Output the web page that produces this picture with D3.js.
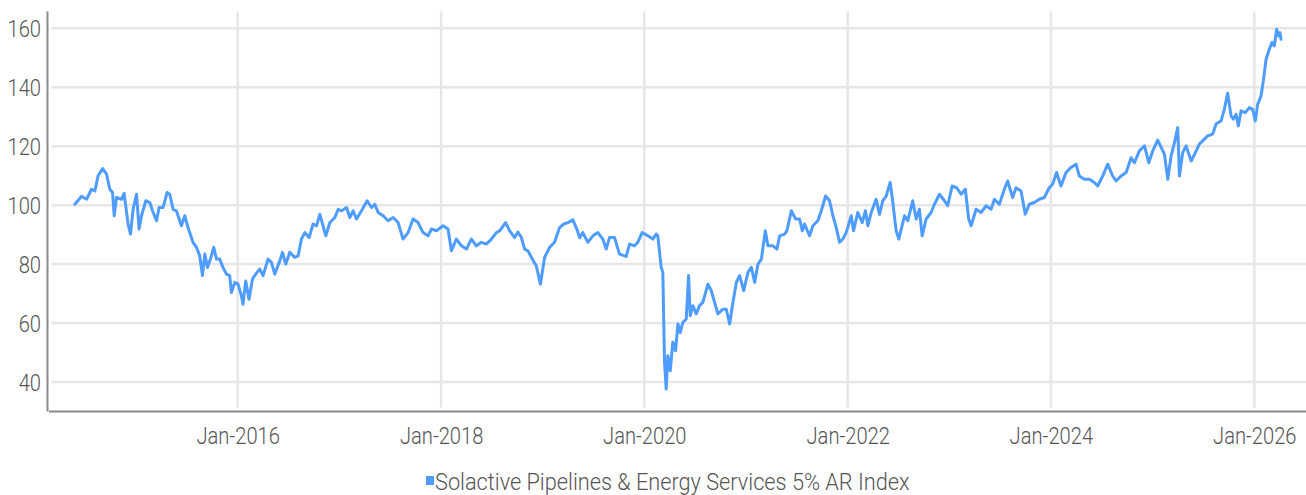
<!DOCTYPE html>
<html>
<head>
<meta charset="utf-8">
<script src="https://cdn.jsdelivr.net/npm/d3@7"></script>
<style>
  html, body { margin: 0; padding: 0; background: #fff; }
  svg { display: block; }
  text { font-family: "Roboto", "DejaVu Sans Condensed", sans-serif; font-weight: 300; fill: #555; }
</style>
</head>
<body>
<svg id="chart" width="1306" height="495"></svg>
<script>
// ---- data (decimal years, index level) ----
const seriesName = "Solactive Pipelines & Energy Services 5% AR Index";
const times = [
2014.397,2014.463,2014.512,2014.561,2014.594,2014.626,2014.670,2014.709,2014.741,2014.768,
2014.784,2014.807,2014.856,2014.882,2014.921,2014.945,2014.970,2015.004,2015.029,2015.053,
2015.095,2015.135,2015.161,2015.201,2015.226,2015.265,2015.305,2015.331,2015.364,2015.397,
2015.446,2015.479,2015.511,2015.560,2015.594,2015.626,2015.653,2015.676,2015.702,2015.732,
2015.764,2015.791,2015.823,2015.855,2015.889,2015.921,2015.938,2015.971,2016.003,2016.036,
2016.052,2016.079,2016.111,2016.145,2016.177,2016.216,2016.249,2016.298,2016.331,2016.364,
2016.413,2016.440,2016.472,2016.511,2016.560,2016.593,2016.626,2016.659,2016.701,2016.740,
2016.774,2016.806,2016.833,2016.865,2016.905,2016.954,2016.986,2017.020,2017.069,2017.101,
2017.134,2017.167,2017.216,2017.271,2017.315,2017.347,2017.380,2017.429,2017.478,2017.527,
2017.576,2017.625,2017.675,2017.724,2017.773,2017.822,2017.871,2017.905,2017.954,2018.019,
2018.068,2018.101,2018.150,2018.200,2018.249,2018.298,2018.347,2018.396,2018.445,2018.495,
2018.544,2018.576,2018.635,2018.675,2018.724,2018.756,2018.790,2018.822,2018.855,2018.888,
2018.937,2018.977,2019.019,2019.068,2019.117,2019.166,2019.206,2019.248,2019.297,2019.336,
2019.363,2019.395,2019.444,2019.494,2019.543,2019.592,2019.625,2019.658,2019.707,2019.756,
2019.822,2019.855,2019.904,2019.936,2019.979,2020.035,2020.084,2020.117,2020.133,2020.166,
2020.182,2020.199,2020.215,2020.231,2020.255,2020.280,2020.307,2020.330,2020.353,2020.379,
2020.412,2020.435,2020.451,2020.477,2020.510,2020.543,2020.575,2020.625,2020.658,2020.690,
2020.723,2020.772,2020.805,2020.838,2020.870,2020.904,2020.936,2020.976,2021.018,2021.051,
2021.084,2021.116,2021.150,2021.189,2021.214,2021.264,2021.303,2021.330,2021.379,2021.401,
2021.445,2021.487,2021.526,2021.553,2021.575,2021.625,2021.657,2021.706,2021.740,2021.782,
2021.821,2021.854,2021.887,2021.920,2021.952,2021.985,2022.035,2022.057,2022.099,2022.143,
2022.175,2022.198,2022.231,2022.280,2022.313,2022.345,2022.379,2022.418,2022.444,2022.477,
2022.503,2022.559,2022.591,2022.640,2022.674,2022.706,2022.733,2022.772,2022.821,2022.854,
2022.903,2022.952,2022.984,2023.028,2023.073,2023.116,2023.158,2023.191,2023.215,2023.264,
2023.313,2023.362,2023.411,2023.444,2023.493,2023.542,2023.574,2023.624,2023.657,2023.706,
2023.748,2023.788,2023.837,2023.886,2023.935,2023.984,2024.017,2024.056,2024.099,2024.149,
2024.198,2024.247,2024.279,2024.329,2024.378,2024.427,2024.460,2024.509,2024.558,2024.607,
2024.640,2024.689,2024.739,2024.788,2024.820,2024.869,2024.919,2024.961,2025.000,2025.049,
2025.083,2025.115,2025.148,2025.181,2025.214,2025.246,2025.263,2025.295,2025.329,2025.378,
2025.420,2025.459,2025.509,2025.541,2025.590,2025.624,2025.673,2025.705,2025.738,2025.771,
2025.794,2025.820,2025.843,2025.870,2025.912,2025.951,2025.984,2026.010,2026.033,2026.066,
2026.089,2026.116,2026.148,2026.174,2026.197,2026.220,2026.240,2026.253,2026.263
];
const values = [
100.3,103.0,102.0,105.4,104.8,110.0,112.4,110.5,105.4,104.3,
96.4,102.6,102.0,104.0,93.6,90.2,98.6,103.7,91.9,96.4,
101.5,100.9,98.1,94.7,99.2,99.2,104.3,103.7,98.6,98.1,
93.0,96.4,92.4,87.4,85.7,82.8,76.1,83.4,78.9,81.7,
85.7,81.7,81.7,78.9,76.6,76.1,70.4,73.8,73.2,69.3,
66.4,74.3,68.1,74.9,76.6,78.3,76.1,81.7,80.6,76.6,
81.1,84.0,80.0,84.0,82.3,82.8,88.5,90.7,89.0,93.6,
93.0,96.9,93.6,89.6,94.1,95.8,98.6,98.1,99.2,95.8,
98.1,95.3,98.1,101.5,99.2,100.3,97.5,96.4,94.7,95.8,
94.1,88.5,90.7,95.3,94.1,90.7,89.6,91.9,91.3,93.0,
91.9,84.5,88.5,86.2,85.1,88.5,86.2,87.4,86.8,88.5,
90.7,91.3,94.1,91.3,89.0,90.9,89.0,85.1,84.5,82.3,
79.4,73.2,82.3,85.7,87.4,92.4,93.6,94.1,95.0,91.9,
89.0,90.7,87.4,89.6,90.7,88.5,85.1,89.0,89.0,83.4,
82.6,86.8,86.2,87.4,90.7,89.6,88.5,90.2,89.6,78.9,
77.2,46.7,37.6,48.9,43.8,53.5,50.6,59.7,56.8,60.2,
61.4,76.1,62.5,65.9,63.1,65.9,67.0,73.2,71.0,67.0,
63.1,64.7,64.7,59.7,67.0,73.8,76.1,71.0,77.2,78.9,
73.8,80.0,81.7,91.3,86.2,86.2,85.1,89.6,90.2,91.3,
98.1,95.3,95.3,91.3,93.6,89.6,93.0,94.7,98.1,103.1,
101.5,96.4,92.4,87.4,88.5,90.7,96.4,91.3,97.5,94.1,
98.1,93.0,97.5,102.0,96.9,101.5,103.1,107.7,100.9,91.3,
88.5,96.4,94.7,101.5,95.3,98.6,89.6,95.3,97.5,100.3,
103.7,101.5,99.8,106.5,105.9,103.7,105.4,95.3,93.0,98.6,
97.5,99.8,98.6,102.0,100.3,105.4,108.2,102.6,105.9,104.8,
96.9,100.3,100.9,102.0,102.6,105.9,107.1,111.1,106.5,111.1,
112.8,113.9,109.9,108.8,108.8,107.7,106.5,109.9,113.9,109.9,
108.2,109.9,111.1,116.1,114.4,118.4,120.1,114.4,118.4,122.1,
119.6,117.3,108.8,116.7,121.2,126.3,109.9,117.8,120.1,115.0,
117.8,120.7,122.4,123.5,124.1,127.5,128.6,132.5,138.0,130.3,
129.2,130.8,126.9,132.0,131.4,133.1,132.5,128.6,134.2,137.0,
142.2,149.5,152.9,155.2,154.0,159.7,157.4,158.5,156.3
];
const yTicks = [40, 60, 80, 100, 120, 140, 160];
const xTickYears = [2016, 2018, 2020, 2022, 2024, 2026];

// ---- helpers ----
function decToDate(t) {
  const y = Math.floor(t);
  const a = Date.UTC(y, 0, 1), b = Date.UTC(y + 1, 0, 1);
  return new Date(a + (t - y) * (b - a));
}
// condense a text horizontally (emulates a condensed typeface)
function condense(sel, k) {
  sel.each(function () {
    const w = this.getComputedTextLength();
    d3.select(this).attr("textLength", w * k).attr("lengthAdjust", "spacingAndGlyphs");
  });
}
const data = times.map((t, i) => ({ date: decToDate(t), value: values[i] }));

const svg = d3.select("#chart");
const x = d3.scaleUtc()
  .domain([new Date(Date.UTC(2016, 0, 1)), new Date(Date.UTC(2026, 0, 1))])
  .range([237.7, 1254.3]);
const y = d3.scaleLinear().domain([30, 160]).range([411.5, 28.3]);

const plotLeft = 50.5, plotRight = 1306, plotTop = 11.5, plotBottom = 411.5;
const K = 0.84, KL = 0.905;

// horizontal gridlines
svg.append("g").selectAll("line").data(yTicks).join("line")
  .attr("x1", plotLeft + 1).attr("x2", plotRight)
  .attr("y1", d => y(d)).attr("y2", d => y(d))
  .attr("stroke", "#e6e6e6").attr("stroke-width", 2.5);

// vertical gridlines
const xTicks = xTickYears.map(yr => new Date(Date.UTC(yr, 0, 1)));
svg.append("g").selectAll("line").data(xTicks).join("line")
  .attr("x1", d => x(d)).attr("x2", d => x(d))
  .attr("y1", plotTop).attr("y2", plotBottom - 4)
  .attr("stroke", "#e6e6e6").attr("stroke-width", 2.5);

// axes lines
svg.append("line").attr("x1", 47.5).attr("x2", 47.5).attr("y1", plotTop).attr("y2", plotBottom)
  .attr("stroke", "#8a8a8a").attr("stroke-width", 2);
svg.append("line").attr("x1", 49).attr("x2", plotRight).attr("y1", plotBottom).attr("y2", plotBottom)
  .attr("stroke", "#8a8a8a").attr("stroke-width", 2);

// y tick labels
const yAxis = d3.axisLeft(y).tickValues(yTicks).tickSize(0).tickPadding(0);
const gy = svg.append("g").attr("transform", "translate(41,0)").call(yAxis);
gy.select(".domain").remove();
gy.attr("font-family", null).attr("font-size", null);
gy.selectAll("text").attr("font-size", 24).attr("dy", "0.36em").attr("fill", "#555");
condense(gy.selectAll("text"), K);

// x tick labels
const fmt = d3.utcFormat("%b-%Y");
const xAxis = d3.axisBottom(x).tickValues(xTicks).tickFormat(fmt).tickSize(0).tickPadding(0);
const gx = svg.append("g").attr("transform", "translate(0,427)").call(xAxis);
gx.select(".domain").remove();
gx.attr("font-family", null).attr("font-size", null);
gx.selectAll("text").attr("font-size", 24).attr("dy", "0.72em").attr("y", 0).attr("fill", "#555");
condense(gx.selectAll("text"), K);

// series line
svg.append("path").datum(data)
  .attr("fill", "none").attr("stroke", "#4f9cff").attr("stroke-width", 3)
  .attr("stroke-linejoin", "round").attr("stroke-linecap", "round")
  .attr("d", d3.line().x(d => x(d.date)).y(d => y(d.value)));

// legend
const lg = svg.append("g");
lg.append("rect").attr("x", 426).attr("y", 476).attr("width", 8).attr("height", 9).attr("fill", "#4f9cff");
const lt = lg.append("text").attr("x", 435).attr("y", 490).attr("font-size", 24).attr("fill", "#555").text(seriesName);
condense(lt, KL);
</script>
</body>
</html>
